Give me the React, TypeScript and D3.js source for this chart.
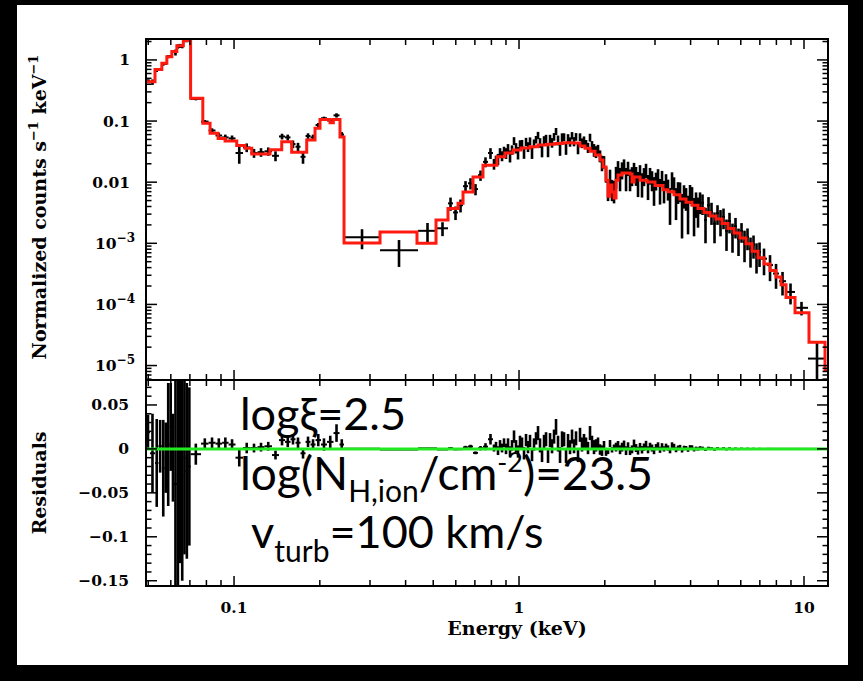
import React from "react";
import * as d3 from "d3";

// spectrum bins (keV), observed rate and 1-sigma error
const energyEdges = [
  0.0491, 0.0507, 0.0528, 0.0543, 0.0558, 0.0571, 0.0581, 0.0594, 0.0605, 0.0616,
  0.063, 0.0641, 0.0652, 0.0664, 0.0676, 0.069, 0.0704,
  0.0766, 0.0814, 0.0861, 0.0908, 0.0957, 0.1012, 0.1075, 0.1142, 0.1209, 0.1279, 0.1359, 0.1438,
  0.151, 0.1578, 0.1643, 0.1711, 0.1782, 0.1855, 0.1932, 0.2019, 0.2119, 0.2234, 0.2345, 0.2432,
  0.3253, 0.4421, 0.5155, 0.5634, 0.5868, 0.6109, 0.6361, 0.6623, 0.6895, 0.7179, 0.7475, 0.7783, 0.8103,
  0.8236, 0.8371, 0.8507, 0.8647, 0.8788, 0.893, 0.9076, 0.9224, 0.9374, 0.9527,
  0.9682, 0.984, 1.0, 1.0163, 1.0328, 1.0497, 1.0667, 1.0842, 1.1018, 1.1198,
  1.138, 1.1566, 1.1754, 1.1946, 1.2141, 1.2339, 1.2539, 1.2745, 1.2952, 1.3163,
  1.3378, 1.3594, 1.3817, 1.4042, 1.4271, 1.4503, 1.4739, 1.4981, 1.5224, 1.5468,
  1.5724, 1.5977, 1.6238, 1.6502, 1.6771, 1.7043, 1.7321, 1.7603, 1.7889, 1.8181,
  1.8478, 1.8779, 1.9085, 1.9396, 1.9713, 2.0034, 2.0361, 2.0693, 2.103, 2.1373,
  2.1722, 2.2076, 2.2436, 2.2801, 2.3173, 2.3551, 2.3935, 2.4325, 2.4722, 2.5119,
  2.5529, 2.5945, 2.6368, 2.6797, 2.7234, 2.7678, 2.8129, 2.8587, 2.9053, 2.9527,
  3.0008, 3.0497, 3.0994, 3.1499, 3.2012, 3.2534, 3.3064, 3.3603, 3.4151, 3.4707,
  3.5273, 3.5848, 3.6432, 3.7025, 3.7629, 3.8242, 3.8865, 3.9499, 4.0142, 4.0797,
  4.1462, 4.2137, 4.2825, 4.3522,
  4.458, 4.5674, 4.6795, 4.7942, 4.9119, 5.0323, 5.1558, 5.2823, 5.4117, 5.5446,
  5.6806, 5.8199, 5.9635, 6.1098, 6.2594, 6.4132, 6.5705, 6.7317, 6.8972, 7.0663,
  7.4173, 7.786, 8.1727, 8.6484, 9.2997, 10.3285, 11.9458,
];

const countRate = [
  0.459, 0.435, 0.684, 0.703, 0.858, 0.87, 1.135, 1.155, 1.36, 1.33,
  1.67, 1.7, 1.67, 2.06, 2.045, 2.05,
  0.23, 0.098, 0.07, 0.058, 0.054, 0.052, 0.03, 0.037, 0.03, 0.031, 0.032, 0.027,
  0.056, 0.054, 0.042, 0.038, 0.026, 0.057, 0.054, 0.086, 0.111, 0.102, 0.124, 0.06,
  0.00125, 0.00077, 0.0016, 0.00176, 0.0045, 0.0032, 0.0042, 0.0086, 0.0096, 0.0077, 0.013, 0.0215, 0.03,
  0.02, 0.023, 0.024, 0.031, 0.027, 0.033, 0.03, 0.036, 0.027, 0.034,
  0.0475, 0.0365, 0.0305, 0.0415, 0.0421, 0.0311, 0.0461, 0.0381, 0.047, 0.031,
  0.043, 0.05, 0.0585, 0.0445, 0.0335, 0.0485, 0.0515, 0.0336, 0.0516, 0.0446,
  0.0556, 0.068, 0.049, 0.036, 0.054, 0.055, 0.036, 0.053, 0.046, 0.058,
  0.0466, 0.0556, 0.0366, 0.055, 0.044, 0.048, 0.042, 0.037, 0.054, 0.039,
  0.034, 0.0318, 0.0348, 0.0271, 0.0211, 0.0217, 0.0138, 0.0079, 0.012, 0.0079,
  0.0075, 0.0128, 0.0171, 0.0121, 0.0161, 0.0191, 0.0121, 0.0171, 0.0116, 0.0131,
  0.0162, 0.0132, 0.0102, 0.0148, 0.0098, 0.0128, 0.0158, 0.0091, 0.0131, 0.0111,
  0.0081, 0.0108, 0.0128, 0.0078, 0.0118, 0.0075, 0.0105, 0.008, 0.005, 0.011,
  0.0092, 0.0052, 0.0072, 0.0073, 0.0038, 0.0063, 0.0057, 0.0037, 0.0067, 0.0062,
  0.0034, 0.0047, 0.0037, 0.0049,
  0.0046, 0.0024, 0.0042, 0.0033, 0.0021, 0.0031, 0.0024, 0.0027, 0.0016, 0.0023,
  0.0014, 0.0019, 0.00118, 0.00158, 0.00105, 0.00126, 0.00082, 0.00095, 0.00066, 0.00072,
  0.00056, 0.00044, 0.00032, 0.00024, 0.00016, 0.000088, 0.000013,
];

const countErr = [
  0.02, 0.045, 0.05, 0.03, 0.055, 0.04, 0.07, 0.05, 0.05, 0.15,
  0.14, 0.13, 0.12, 0.11, 0.1, 0.09,
  0.012, 0.006, 0.006, 0.006, 0.006, 0.006, 0.01, 0.006, 0.005, 0.005, 0.005, 0.005,
  0.006, 0.006, 0.006, 0.006, 0.006, 0.006, 0.006, 0.007, 0.007, 0.007, 0.01, 0.006,
  0.00045, 0.00036, 0.00055, 0.00045, 0.0011, 0.0008, 0.001, 0.0018, 0.002, 0.0016, 0.0025, 0.004, 0.006,
  0.004, 0.004, 0.005, 0.005, 0.005, 0.005, 0.006, 0.006, 0.006, 0.006,
  0.007, 0.007, 0.007, 0.007, 0.007, 0.007, 0.007, 0.007, 0.007, 0.007,
  0.007, 0.007, 0.008, 0.008, 0.008, 0.008, 0.008, 0.008, 0.008, 0.008,
  0.008, 0.009, 0.009, 0.009, 0.009, 0.008, 0.008, 0.008, 0.008, 0.008,
  0.008, 0.008, 0.008, 0.008, 0.008, 0.008, 0.007, 0.007, 0.008, 0.008,
  0.008, 0.007, 0.006, 0.006, 0.006, 0.005, 0.004, 0.003, 0.004, 0.003,
  0.003, 0.005, 0.005, 0.005, 0.005, 0.0045, 0.005, 0.0045, 0.0045, 0.0045,
  0.0045, 0.0045, 0.0045, 0.0042, 0.0042, 0.0042, 0.0042, 0.004, 0.004, 0.004,
  0.004, 0.0035, 0.0035, 0.0035, 0.0035, 0.003, 0.003, 0.003, 0.003, 0.0035,
  0.0028, 0.0028, 0.0028, 0.0026, 0.0026, 0.0026, 0.0023, 0.0023, 0.0023, 0.0021,
  0.0021, 0.0021, 0.0019, 0.0019,
  0.0017, 0.0014, 0.0015, 0.0013, 0.0011, 0.0011, 0.0011, 0.001, 0.00085, 0.00085,
  0.0007, 0.0007, 0.00056, 0.00056, 0.00056, 0.00049, 0.00042, 0.00039, 0.00034, 0.00031,
  0.00026, 0.0002, 0.00014, 0.0001, 0.00006, 0.000022, 0.000011,
];

// folded model, step function on its own bin edges
const modelEdges = [
  0.0491, 0.0528, 0.0558, 0.0581, 0.0605, 0.063, 0.0664, 0.0704, 0.0777, 0.0824,
  0.0879, 0.093, 0.1022, 0.1093, 0.1154, 0.1337, 0.147, 0.1593, 0.1799, 0.1924,
  0.2003, 0.2172, 0.2231, 0.2354, 0.2432, 0.3253, 0.4385, 0.5114, 0.5634, 0.6109,
  0.6361, 0.6895, 0.7475, 0.8371, 0.893, 0.9527, 1.0163, 1.0929, 1.1659, 1.2539,
  1.3378, 1.4267, 1.5468, 1.6369, 1.7043, 1.775, 1.8479, 1.9241, 1.9713, 2.0197,
  2.0527, 2.0861, 2.1201, 2.1544, 2.1895, 2.2252, 2.2982, 2.4525, 2.4925, 2.5331,
  2.6589, 2.8135, 3.0004, 3.2007, 3.3327, 3.4982, 3.6719, 3.8544, 4.0459, 4.247,
  4.458, 4.6795, 4.9121, 5.1562, 5.4117, 5.681, 5.9635, 6.2594, 6.5707, 6.8973,
  7.2397, 7.5993, 7.9769, 8.3057, 8.6484, 9.2997, 10.412, 11.85, 12.14,
];

const modelRate = [
  0.44, 0.7, 0.88, 1.13, 1.37, 1.7, 2.07, 0.236, 0.092, 0.063,
  0.052, 0.047, 0.04, 0.036, 0.029, 0.034, 0.046, 0.031, 0.049, 0.076,
  0.106, 0.094, 0.106, 0.055, 0.00101, 0.00153, 0.001, 0.0024, 0.0037, 0.0045,
  0.0069, 0.0122, 0.019, 0.026, 0.03, 0.0335, 0.0361, 0.038, 0.0405, 0.0416,
  0.043, 0.044, 0.0436, 0.039, 0.036, 0.032, 0.0278, 0.0231, 0.0177, 0.0108,
  0.0059, 0.009, 0.0069, 0.0055, 0.0108, 0.0131, 0.0141, 0.0136, 0.0101, 0.0122,
  0.0108, 0.0101, 0.0088, 0.0075, 0.007, 0.0062, 0.0053, 0.0047, 0.0042, 0.0037,
  0.0032, 0.0028, 0.0025, 0.0021, 0.00175, 0.00148, 0.00122, 0.00098, 0.00074, 0.00058,
  0.00046, 0.00036, 0.00028, 0.00021, 0.00013, 0.000073, 0.000024, 0.0000086,
];

const energyTicks = [0.1, 1, 10];
const energyTickLabels = ["0.1", "1", "10"];
const rateTicks = [1, 0.1, 0.01, 1e-3, 1e-4, 1e-5];
const rateTickLabels = ["1", "0.1", "0.01", "10^\u22123", "10^\u22124", "10^\u22125"];
const residTicks = [0.05, 0, -0.05, -0.1, -0.15];
const residTickLabels = ["0.05", "0", "\u22120.05", "\u22120.1", "\u22120.15"];

const W = 863, H = 681;
const L = 146, R = 828, T = 39, M = 380, B = 586;
const serif = "'DejaVu Serif', serif";
const sans = "Lato, 'Open Sans', sans-serif";

function modelAt(e: number) {
  const i = d3.bisectRight(modelEdges, e) - 1;
  return modelRate[Math.max(0, Math.min(modelRate.length - 1, i))];
}

function isDecade(t: number) {
  const l = Math.log10(t);
  return Math.abs(l - Math.round(l)) < 1e-6;
}

export default function App() {
  const x = d3.scaleLog().domain([0.0491, 12.14]).range([L, R]);
  const yTop = d3.scaleLog().domain([5.8e-6, 2.2]).range([M, T]);
  const yRes = d3.scaleLinear().domain([-0.156, 0.0784]).range([B, M]);

  const bins = countRate.map((v, i) => {
    const lo = energyEdges[i];
    const hi = energyEdges[i + 1];
    const c = Math.sqrt(lo * hi);
    return { lo, hi, c, v, e: countErr[i], r: v - modelAt(c) };
  });

  const modelPts: [number, number][] = modelRate.map((v, i) => [modelEdges[i], v]);
  modelPts.push([modelEdges[modelEdges.length - 1], modelRate[modelRate.length - 1]]);
  const modelPath = d3
    .line<[number, number]>()
    .x(d => x(d[0]))
    .y(d => yTop(d[1]))
    .curve(d3.curveStepAfter)(modelPts);

  const xTicks = x.ticks();
  const yTicks = yTop.ticks().filter(t => t >= 5.8e-6 && t <= 2.2);
  const resMinor = d3.range(-15, 8).map(k => k / 100);

  const tick = { stroke: "#000", strokeWidth: 1.5 };

  const xTickMarks = (y0: number, dir: number) =>
    xTicks.map((t, i) => {
      const len = isDecade(t) ? 10 : 6;
      return <line key={i} x1={x(t)} x2={x(t)} y1={y0} y2={y0 + dir * len} {...tick} />;
    });

  const supLabel = (s: string) => {
    const [base, exp] = s.split("^");
    if (!exp) return s;
    return (
      <>
        {base}
        <tspan dy={-7} fontSize={12}>{exp}</tspan>
      </>
    );
  };

  return (
    <svg width={W} height={H} style={{ position: "fixed", left: 0, top: 0 }}>
      <defs>
        <clipPath id="topClip">
          <rect x={L} y={T} width={R - L} height={M - T} />
        </clipPath>
        <clipPath id="resClip">
          <rect x={L} y={M} width={R - L} height={B - M} />
        </clipPath>
      </defs>
      <rect width={W} height={H} fill="#000" />
      <rect x={17} y={5} width={831} height={660} fill="#fff" />

      {/* top panel: data crosses */}
      <g clipPath="url(#topClip)" stroke="#000">
        {bins.map((b, i) => (
          <g key={i}>
            <line x1={x(b.lo)} x2={x(b.hi)} y1={yTop(b.v)} y2={yTop(b.v)} strokeWidth={2} />
            <line
              x1={x(b.c)}
              x2={x(b.c)}
              y1={yTop(Math.max(b.v - b.e, 1e-7))}
              y2={yTop(b.v + b.e)}
              strokeWidth={2.6}
            />
          </g>
        ))}
      </g>
      <path d={modelPath || ""} fill="none" stroke="#ff1a10" strokeWidth={3} clipPath="url(#topClip)" />

      {/* residual panel */}
      <g clipPath="url(#resClip)" stroke="#000">
        {bins.map((b, i) => (
          <g key={i}>
            <line x1={x(b.lo)} x2={x(b.hi)} y1={yRes(b.r)} y2={yRes(b.r)} strokeWidth={2} />
            <line
              x1={x(b.c)}
              x2={x(b.c)}
              y1={yRes(b.r - b.e)}
              y2={yRes(b.r + b.e)}
              strokeWidth={2.6}
            />
          </g>
        ))}
      </g>
      <line x1={L} x2={R + 1} y1={yRes(0)} y2={yRes(0)} stroke="#22ea22" strokeWidth={3} />

      {/* ticks */}
      {xTickMarks(T, 1)}
      {xTickMarks(M, -1)}
      {xTickMarks(M, 1)}
      {xTickMarks(B, -1)}
      {yTicks.map((t, i) => {
        const len = isDecade(t) ? 11 : 5.5;
        return (
          <g key={i}>
            <line x1={L} x2={L + len} y1={yTop(t)} y2={yTop(t)} {...tick} />
            <line x1={R} x2={R - len} y1={yTop(t)} y2={yTop(t)} {...tick} />
          </g>
        );
      })}
      {resMinor.map((t, i) => {
        const len = Math.round(t * 100) % 5 === 0 ? 11 : 5.5;
        return (
          <g key={i}>
            <line x1={L} x2={L + len} y1={yRes(t)} y2={yRes(t)} {...tick} />
            <line x1={R} x2={R - len} y1={yRes(t)} y2={yRes(t)} {...tick} />
          </g>
        );
      })}

      <rect x={L} y={T} width={R - L} height={M - T} fill="none" stroke="#000" strokeWidth={2} />
      <rect x={L} y={M} width={R - L} height={B - M} fill="none" stroke="#000" strokeWidth={2} />

      {/* tick labels and axis titles */}
      <g fontFamily={serif} fontWeight="bold" fontSize={15.5} fill="#000">
        {rateTicks.map((t, i) => (
          <text
            key={i}
            x={rateTickLabels[i].includes("^") ? 135 : 130}
            y={yTop(t) + 5.5}
            textAnchor="end"
          >
            {supLabel(rateTickLabels[i])}
          </text>
        ))}
        {residTicks.map((t, i) => (
          <text key={i} x={129} y={yRes(t) + 5.5} textAnchor="end">
            {residTickLabels[i]}
          </text>
        ))}
        {energyTicks.map((t, i) => (
          <text key={i} x={x(t)} y={613} textAnchor="middle">
            {energyTickLabels[i]}
          </text>
        ))}
      </g>
      <g fontFamily={serif} fontWeight="bold" fontSize={19} fill="#000">
        <text x={517} y={635} textAnchor="middle">Energy (keV)</text>
        <text transform="translate(46,207) rotate(-90)" textAnchor="middle">
          Normalized counts s<tspan dy={-8} fontSize={13}>{"\u22121"}</tspan>
          <tspan dy={8}> keV</tspan>
          <tspan dy={-8} fontSize={13}>{"\u22121"}</tspan>
        </text>
        <text transform="translate(46,483) rotate(-90)" textAnchor="middle">Residuals</text>
      </g>

      {/* annotation */}
      <g fontFamily={sans} fill="#000">
        <text x={240} y={430} fontSize={45}>log{"\u03BE"}=2.5</text>
        <text x={240} y={490} fontSize={46}>
          log(N<tspan dy={12} fontSize={30}>H,ion</tspan>
          <tspan dy={-12}>/cm</tspan>
          <tspan dy={-18} fontSize={27}>-2</tspan>
          <tspan dy={18}>)=23.5</tspan>
        </text>
        <text x={251} y={548} fontSize={45}>
          v<tspan dy={14} fontSize={30}>turb</tspan>
          <tspan dy={-14}>=100 km/s</tspan>
        </text>
      </g>
    </svg>
  );
}
